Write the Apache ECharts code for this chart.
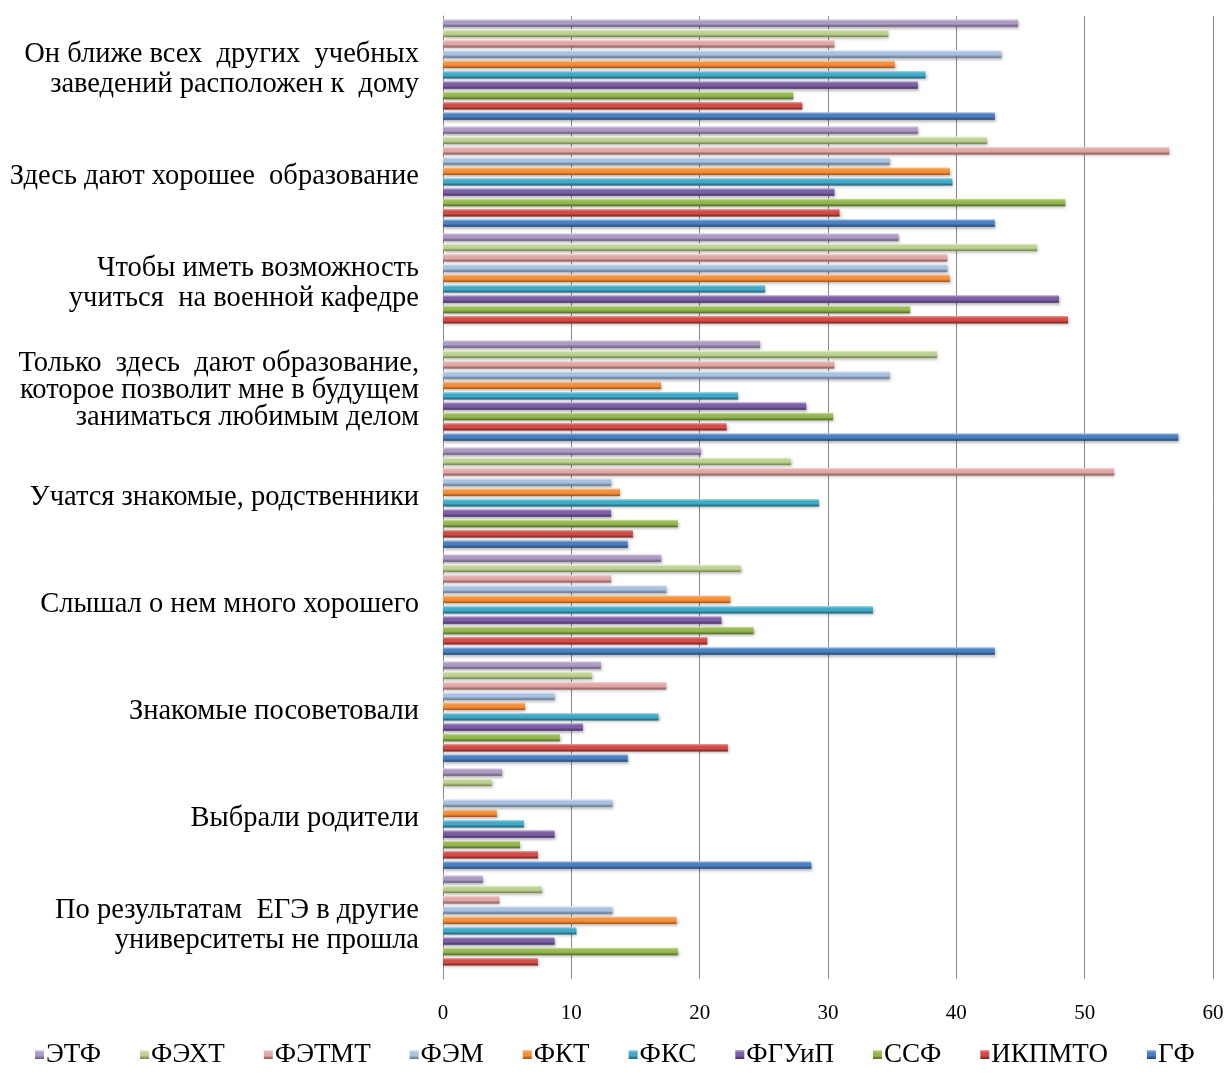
<!DOCTYPE html>
<html>
<head>
<meta charset="utf-8">
<script src="https://cdn.jsdelivr.net/npm/echarts@6/dist/echarts.min.js"></script>
<style>
html, body { margin: 0; padding: 0; background: #fff; }
#main { width: 1227px; height: 1074px; }
</style>
</head>
<body>
<div id="main"></div>
<script>
// категории сверху вниз
var categories = [
	'Он ближе всех  других  учебных\nзаведений расположен к  дому',
	'Здесь дают хорошее  образование',
	'Чтобы иметь возможность\nучиться  на военной кафедре',
	'Только  здесь  дают образование,\nкоторое позволит мне в будущем\nзаниматься любимым делом',
	'Учатся знакомые, родственники',
	'Слышал о нем много хорошего',
	'Знакомые посоветовали',
	'Выбрали родители',
	'По результатам  ЕГЭ в другие\nуниверситеты не прошла'
];

var xTicks = [0, 10, 20, 30, 40, 50, 60];

var names = ['ЭТФ', 'ФЭХТ', 'ФЭТМТ', 'ФЭМ', 'ФКТ', 'ФКС', 'ФГУиП', 'ССФ', 'ИКПМТО', 'ГФ'];

var etf    = [44.8, 37.0, 35.5, 24.7, 20.1, 17.0, 12.3, 4.6, 3.1];
var feht   = [34.7, 42.4, 46.3, 38.5, 27.1, 23.2, 11.6, 3.8, 7.7];
var fetmt  = [30.5, 56.6, 39.3, 30.5, 52.3, 13.1, 17.4, null, 4.4];
var fem    = [43.5, 34.8, 39.3, 34.8, 13.1, 17.4, 8.7, 13.2, 13.2];
var fkt    = [35.2, 39.5, 39.5, 17.0, 13.8, 22.4, 6.4, 4.2, 18.2];
var fks    = [37.6, 39.7, 25.1, 23.0, 29.3, 33.5, 16.8, 6.3, 10.4];
var fguip  = [37.0, 30.5, 48.0, 28.3, 13.1, 21.7, 10.9, 8.7, 8.7];
var ssf    = [27.3, 48.5, 36.4, 30.4, 18.3, 24.2, 9.1, 6.0, 18.3];
var ikpmto = [28.0, 30.9, 48.7, 22.1, 14.8, 20.6, 22.2, 7.4, 7.4];
var gf     = [43.0, 43.0, null, 57.3, 14.4, 43.0, 14.4, 28.7, null];

var values = [etf, feht, fetmt, fem, fkt, fks, fguip, ssf, ikpmto, gf];

// цвета: светлый верх, основной, тёмный низ
var colors = [
	['#e2d8ef', '#ad9bc4', '#66577a'],
	['#eef6da', '#bdd293', '#71824b'],
	['#f8d8d7', '#e0a9a7', '#8c5553'],
	['#deeaf9', '#a9c2e2', '#5e718b'],
	['#fdc48f', '#f4903c', '#9c5218'],
	['#a2e3f5', '#42a9c6', '#1f5f72'],
	['#bca7df', '#7d5fa3', '#432c5f'],
	['#cfe79c', '#96b852', '#516a28'],
	['#f39f9c', '#d24c48', '#742422'],
	['#a3c4f0', '#4a7fc0', '#223f68']
];

var font = '"Liberation Serif", "DejaVu Serif", serif';

var series = [];
for (var i = 0; i < names.length; i++) {
	series.push({
		name : names[i],
		type : 'bar',
		data : values[i],
		barWidth : 7.5,
		barGap : '38%',
		itemStyle : {
			color : new echarts.graphic.LinearGradient(0, 0, 0, 1, [
				{ offset : 0, color : colors[i][0] },
				{ offset : 0.3, color : colors[i][1] },
				{ offset : 0.6, color : colors[i][1] },
				{ offset : 1, color : colors[i][2] }
			]),
			shadowBlur : 3,
			shadowOffsetX : 1,
			shadowOffsetY : 2,
			shadowColor : 'rgba(0, 0, 0, 0.3)'
		}
	});
}

var myChart = echarts.init(document.getElementById('main'));

var option = {
	animation : false,
	color : colors.map(function(c) { return c[1]; }),
	textStyle : { fontFamily : font },
	grid : {
		left : 443,
		right : 14,
		top : 16,
		bottom : 95
	},
	legend : {
		data : names,
		left : 30,
		bottom : 1,
		icon : 'rect',
		itemWidth : 9,
		itemHeight : 9,
		itemGap : 39,
		textStyle : {
			fontFamily : font,
			fontSize : 27,
			color : '#000',
			padding : [0, 0, 0, -3]
		}
	},
	xAxis : {
		type : 'value',
		min : xTicks[0],
		max : xTicks[xTicks.length - 1],
		interval : 10,
		axisLine : { show : false },
		axisTick : { show : false },
		splitLine : { lineStyle : { color : '#8a8a8a', width : 1 } },
		axisLabel : {
			fontFamily : font,
			fontSize : 21,
			color : '#000',
			margin : 24
		}
	},
	yAxis : {
		type : 'category',
		inverse : true,
		data : categories,
		axisLine : { lineStyle : { color : '#8a8a8a', width : 1 } },
		axisTick : { show : false },
		axisLabel : {
			fontFamily : font,
			fontSize : 28.5,
			lineHeight : 30,
			color : '#000',
			align : 'right',
			margin : 24,
			formatter : function(value, index) {
				// три строки стоят плотнее
				return index === 3 ? '{tight|' + value + '}' : value;
			},
			rich : {
				tight : {
					fontFamily : font,
					fontSize : 28.5,
					lineHeight : 27,
					color : '#000'
				}
			}
		}
	},
	series : series
};
myChart.setOption(option);
</script>
</body>
</html>
